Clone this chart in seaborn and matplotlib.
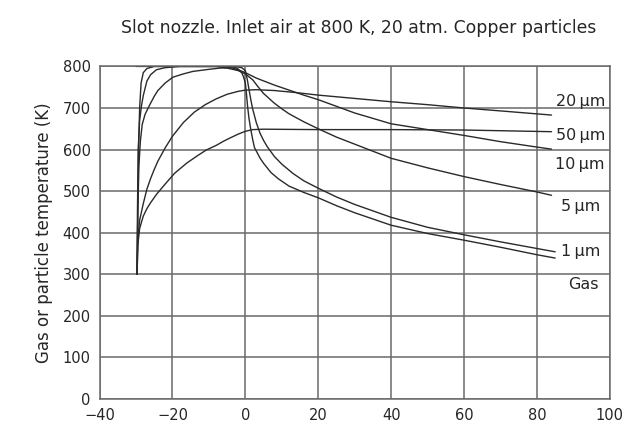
import numpy as np
import pandas as pd
import matplotlib
matplotlib.use("Agg")
import matplotlib.pyplot as plt
import seaborn as sns

# ---- data ----
gas_x = [-30, -10, -5, -3, -2, -1, -0.5, 0, 0.3, 0.6, 1, 1.5, 2, 2.5, 4, 5, 7, 9, 12, 16, 20, 25, 30, 40, 50, 60, 70, 80, 85]
gas_y = [800, 800, 800, 798, 794, 785, 775, 760, 735, 705, 675, 648, 625, 605, 580, 567, 545, 530, 512, 497, 484, 465, 448, 418, 398, 382, 365, 347, 339]

um1_x = [-29.7, -29.5, -29.3, -29.0, -28.6, -28.0, -27.0, -25.0, -3, -1, 0, 0.5, 1, 1.5, 2, 3, 4, 5, 6, 8, 10, 13, 16, 20, 25, 30, 40, 50, 60, 70, 80, 85]
um1_y = [300, 450, 600, 700, 760, 785, 795, 800, 800, 797, 790, 770, 745, 720, 698, 665, 640, 622, 607, 583, 565, 543, 525, 507, 486, 468, 437, 413, 395, 378, 362, 354]

um5_x = [-29.7, -29.6, -29.4, -29.0, -28.5, -28, -27, -26, -24.4, -22, -18, -8, -5, -2, 0, 2, 3.4, 5, 7.9, 10, 12, 16, 20, 25, 30, 35, 40, 50, 60, 70, 80, 84]
um5_y = [300, 450, 600, 670, 705, 730, 765, 780, 792, 797, 800, 800, 796, 790, 782, 768, 752, 735, 712, 698, 686, 667, 650, 630, 613, 596, 579, 556, 535, 516, 498, 490]

um10_x = [-29.7, -29.5, -29.2, -28.8, -28.3, -27.5, -26.2, -25, -24, -22, -19.9, -17, -14.4, -10, -7, -4, -2, 0, 3, 8, 12, 16, 20, 30, 40, 50, 60, 70, 80, 84]
um10_y = [300, 450, 560, 620, 660, 685, 708, 728, 742, 760, 774, 782, 788, 793, 796, 797, 792, 785, 772, 755, 743, 731, 720, 688, 662, 648, 634, 619, 606, 601]

um20_x = [-29.7, -29.5, -29, -28, -27, -26, -25, -24, -22, -20, -17, -14, -11, -8, -5, -2, 0, 3, 8, 14, 20, 30, 40, 50, 60, 70, 84]
um20_y = [300, 380, 430, 470, 505, 530, 552, 572, 604, 632, 665, 690, 708, 722, 733, 740, 743, 744, 742, 737, 731, 723, 715, 708, 700, 693, 683]

um50_x = [-29.7, -29.5, -29, -28, -27, -26, -24.4, -22, -19.4, -16, -13, -10.7, -8, -6, -4.4, -2, 0, 2, 5, 20, 40, 60, 84]
um50_y = [300, 370, 410, 440, 458, 472, 492, 517, 543, 568, 586, 599, 610, 620, 627, 637, 644, 648, 649, 648, 648, 647, 643]

series_names = ["Gas", "1\u2009µm", "5\u2009µm", "10\u2009µm", "20\u2009µm", "50\u2009µm"]
label_x = [96.8, 97.4, 97.4, 98.5, 98.7, 98.7]
label_y = [276, 354, 464, 564, 715, 634]

title_text = "Slot nozzle. Inlet air at 800 K, 20 atm. Copper particles"
ylabel_text = "Gas or particle temperature (K)"
x_ticks = [-40, -20, 0, 20, 40, 60, 80, 100]
y_ticks = [0, 100, 200, 300, 400, 500, 600, 700, 800]

# ---- build long-form table ----
xs = [gas_x, um1_x, um5_x, um10_x, um20_x, um50_x]
ys = [gas_y, um1_y, um5_y, um10_y, um20_y, um50_y]
frames = []
for name, x, y in zip(series_names, xs, ys):
    frames.append(pd.DataFrame({"x": x, "T": y, "series": name}))
df = pd.concat(frames, ignore_index=True)

sns.set_style("white")
plt.rcParams["font.family"] = ["DejaVu Sans"]

fig = plt.figure(figsize=(6.3, 4.28), dpi=100)
ax = fig.add_axes([0.158, 0.0678, 0.810, 0.777])

grid_c = "#6a6a6a"
txt_c = "#262626"
ax.set_xlim(-40, 100)
ax.set_ylim(0, 800)
ax.set_xticks(x_ticks)
ax.set_yticks(y_ticks)
ax.grid(True, color=grid_c, linewidth=1.1)
ax.set_axisbelow(True)
for s in ax.spines.values():
    s.set_color(grid_c)
    s.set_linewidth(1.1)

sns.lineplot(data=df, x="x", y="T", units="series", estimator=None, sort=False,
             color="#2a2a2a", linewidth=1.0, ax=ax, legend=False)

ax.tick_params(axis="both", direction="out", length=4.5, width=1.0, color=grid_c,
               labelsize=10.5, labelcolor=txt_c, pad=2)
ax.set_xlabel("")
ax.set_ylabel(ylabel_text, fontsize=12, color=txt_c, labelpad=7)

for name, lx, ly in zip(series_names, label_x, label_y):
    ax.text(lx, ly, name, ha="right", va="center", fontsize=11.5, color=txt_c)

fig.text(0.570, 0.935, title_text, ha="center", va="center", fontsize=12.4, color=txt_c)

fig.savefig("out.png", dpi=100)
